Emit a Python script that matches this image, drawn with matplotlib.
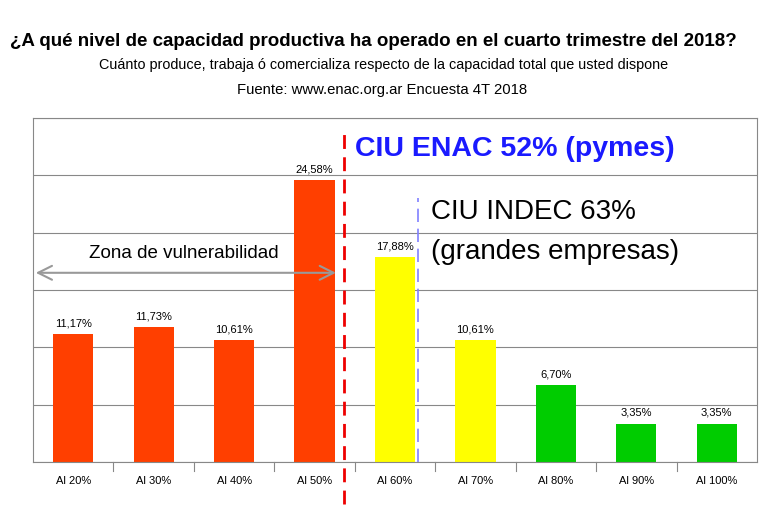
import matplotlib
matplotlib.use("Agg")
import matplotlib.pyplot as plt

categories = ["Al 20%", "Al 30%", "Al 40%", "Al 50%", "Al 60%", "Al 70%", "Al 80%", "Al 90%", "Al 100%"]
values = [11.17, 11.73, 10.61, 24.58, 17.88, 10.61, 6.70, 3.35, 3.35]
labels = ["11,17%", "11,73%", "10,61%", "24,58%", "17,88%", "10,61%", "6,70%", "3,35%", "3,35%"]
colors = ["#ff3f00"] * 4 + ["#ffff00"] * 2 + ["#00cc00"] * 3

fig = plt.figure(figsize=(7.71, 5.20), dpi=100)
ax = fig.add_axes([33/771, 58/520, 724/771, 344/520])
x = range(len(categories))
ax.bar(x, values, width=0.5, color=colors, zorder=2)
for i, (v, l) in enumerate(zip(values, labels)):
    ax.text(i, v + 0.5, l, ha="center", va="bottom", fontsize=8, fontfamily="Liberation Sans")
ax.set_xlim(-0.5, len(categories) - 0.5)
ax.set_ylim(0, 30)
ax.set_yticks(range(0, 31, 5))
ax.yaxis.grid(True, color="#888888", linewidth=0.8, zorder=0)
ax.tick_params(axis="y", left=False, labelleft=False)
ax.set_xticks(list(x))
ax.set_xticklabels(categories, fontsize=8, fontfamily="Liberation Sans")
ax.tick_params(axis="x", length=0, pad=10)
for s in ["top", "right", "left", "bottom"]:
    ax.spines[s].set_color("#888888")
for b in [i + 0.5 for i in range(len(categories) - 1)]:
    ax.plot([b, b], [0, -0.8], color="#888888", lw=0.8, clip_on=False)

ax.plot([3.37, 3.37], [-3.7, 29.0], color="#ee0000", lw=2, ls=(0, (5, 3)), clip_on=False)
ax.plot([4.29, 4.29], [0, 23], color="#8080ff", lw=1.2, ls=(0, (8, 4)))
ax.annotate("", xy=(-0.5, 16.5), xytext=(3.3, 16.5),
            arrowprops=dict(arrowstyle="<->", color="#999999", lw=1.5, mutation_scale=25))
ax.text(1.38, 18.2, "Zona de vulnerabilidad", ha="center", va="center", fontsize=13.5, fontfamily="Liberation Sans")
ax.text(3.5, 27.3, "CIU ENAC 52% (pymes)", color="#1a1aff", fontsize=20.5, fontweight="bold",
        fontfamily="Liberation Sans", va="center")
ax.text(4.45, 21.8, "CIU INDEC 63%", fontsize=20, fontfamily="Liberation Sans", va="center")
ax.text(4.45, 18.3, "(grandes empresas)", fontsize=20, fontfamily="Liberation Sans", va="center")

fig.text(10/771, 1 - 42/520, "¿A qué nivel de capacidad productiva ha operado en el cuarto trimestre del 2018?",
         fontsize=13.5, fontweight="bold", fontfamily="Liberation Sans", va="center")
fig.text(384/771, 1 - 65/520, "Cuánto produce, trabaja ó comercializa respecto de la capacidad total que usted dispone",
         fontsize=10.4, fontfamily="Liberation Sans", ha="center", va="center")
fig.text(382/771, 1 - 90/520, "Fuente: www.enac.org.ar Encuesta 4T 2018",
         fontsize=10.7, fontfamily="Liberation Sans", ha="center", va="center")
fig.savefig("out.png", dpi=100)
